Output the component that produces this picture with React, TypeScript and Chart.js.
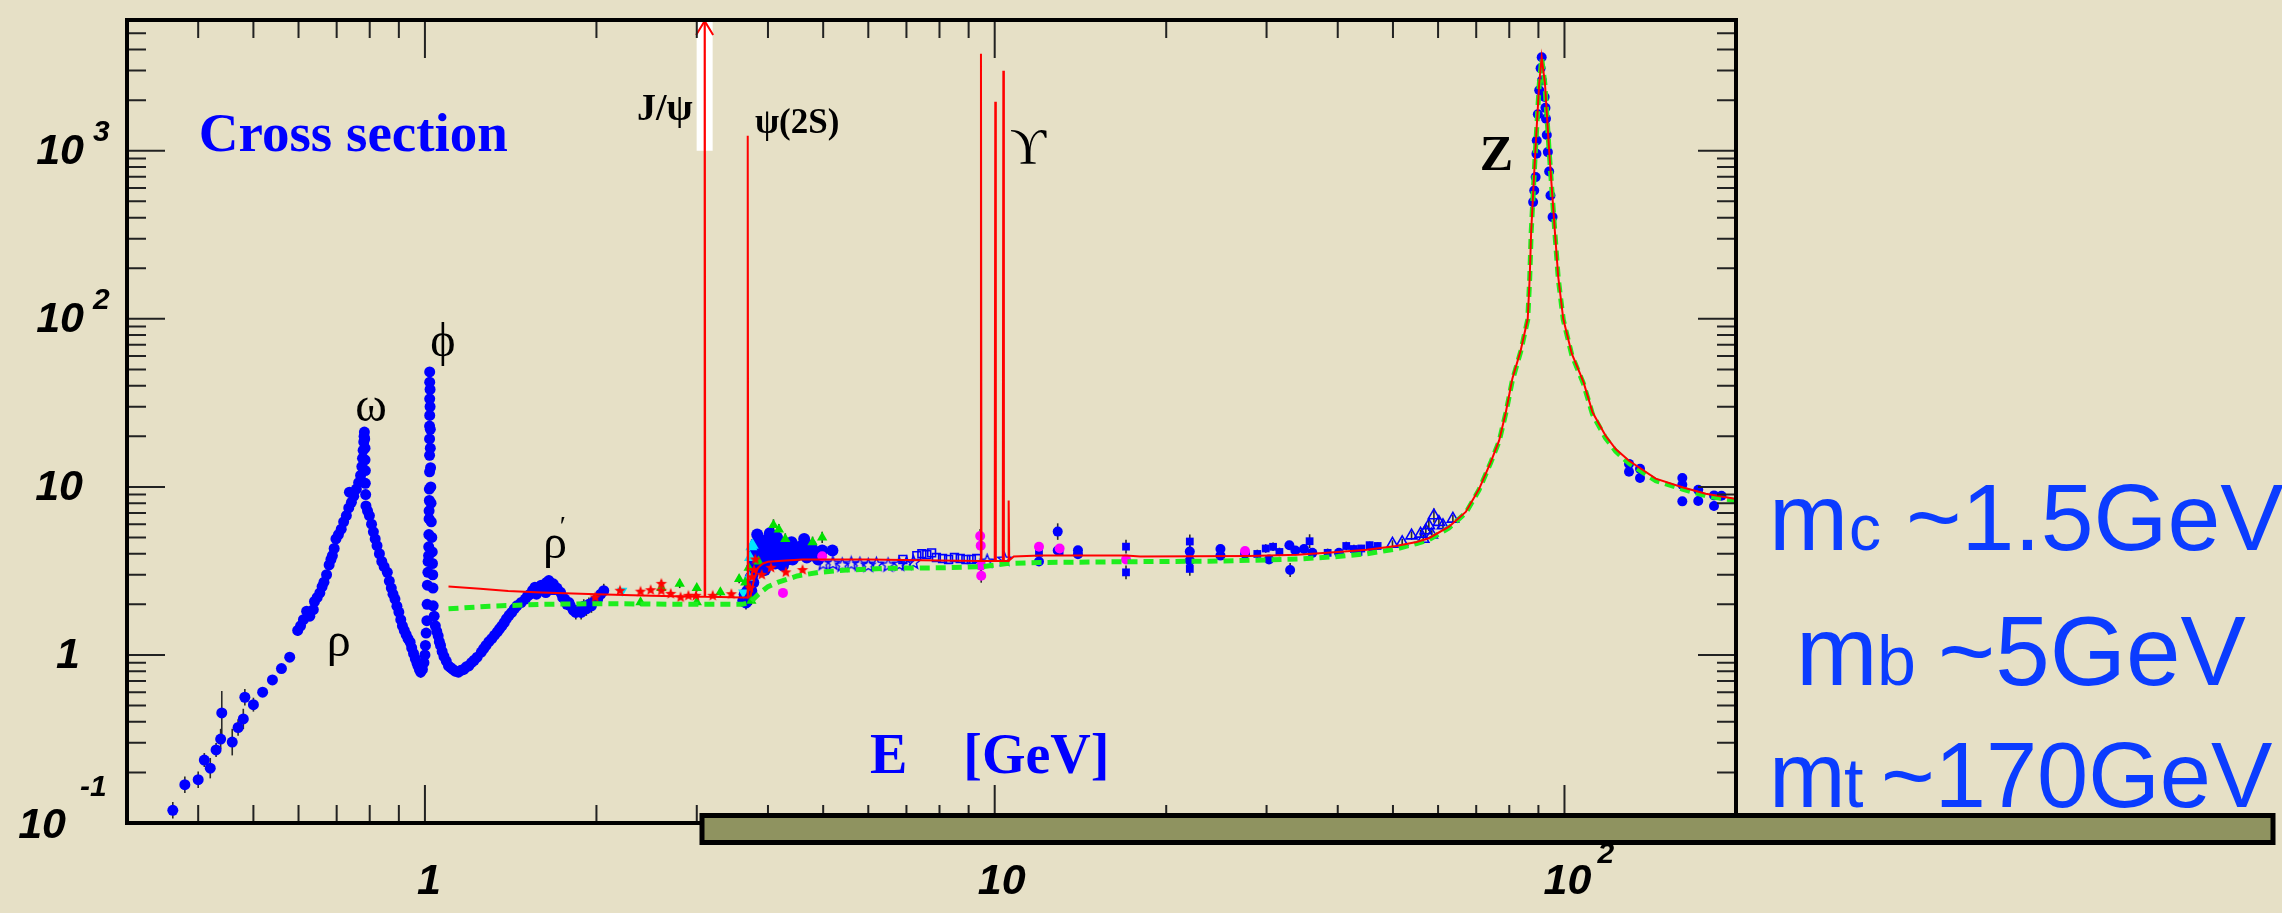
import React, { useEffect, useRef } from 'react';
import { Chart, registerables } from 'chart.js';

Chart.register(...registerables);

const W = 2282;
const H = 913;
const BG = '#e6e0c6';

// Axis ranges (log-log)
const xRange = [0.3, 200];
const yRange = [0.1, 6000];

// Tick labels
const xTickLabelValues = [1, 10, 100];
const xTickLabelBase = ['1', '10', '10'];
const xTickLabelExp = ['', '', '2'];
const yTickLabelValues = [0.1, 1, 10, 100, 1000];
const yTickLabelBase = ['10', '1', '10', '10', '10'];
const yTickLabelExp = ['-1', '', '', '2', '3'];

// Theory curves [E (GeV), R]
const theoryRed: number[][] = [
  [1.1, 2.55], [1.25, 2.48], [1.4, 2.4], [1.6, 2.35], [2.0, 2.3], [2.5, 2.25], [3.0, 2.22],
  [3.09, 2.22], [3.097, 2e5], [3.104, 2.22], [3.3, 2.21], [3.6, 2.2],
  [3.679, 2.2], [3.686, 1230], [3.693, 2.2], [3.73, 2.25], [3.78, 2.8], [3.84, 3.3], [3.92, 3.5],
  [4.0, 3.58], [4.3, 3.65], [4.6, 3.7], [6.0, 3.7], [8.0, 3.65],
  [9.44, 3.62], [9.46, 3780], [9.48, 3.62], [10.0, 3.62], [10.023, 1960], [10.046, 3.62],
  [10.332, 3.62], [10.355, 2990], [10.378, 3.62], [10.555, 3.62], [10.58, 8.3], [10.605, 3.65],
  [10.8, 3.85], [12, 3.9], [17, 3.9], [18, 3.85], [28, 3.88], [34, 3.95], [40, 4.1], [45, 4.22],
  [50.6, 4.45], [55, 4.7], [57.8, 4.95], [62.7, 5.8], [67.1, 7.1], [70.8, 9.7], [74.2, 14],
  [76.8, 18.9], [78.9, 27.8], [81, 44], [83.8, 65], [86.2, 100], [86.9, 178], [87.4, 330],
  [88.9, 1000], [90.3, 2530], [91.2, 3600], [92.4, 2530], [94.0, 1000], [96.2, 330], [97.5, 178],
  [99.5, 100], [103, 62], [108, 42], [112, 27.8], [118, 20.2], [123, 16.8], [129.8, 14.3],
  [144.6, 11.2], [161, 9.96], [177, 9.1], [199, 8.5],
];

const theoryGreen: number[][] = [
  [1.1, 1.88], [1.3, 1.95], [1.6, 2.0], [2.0, 2.02], [3.0, 2.0], [3.6, 2.0], [3.72, 2.05],
  [3.85, 2.3], [4.0, 2.55], [4.16, 2.7], [4.5, 2.95], [4.9, 3.1], [5.5, 3.2], [6.5, 3.28],
  [8, 3.3], [9.5, 3.35], [10.5, 3.5], [12, 3.55], [16, 3.58], [25, 3.62], [34, 3.72], [40, 3.85],
  [45, 4.0], [50.6, 4.27], [55, 4.6], [57.8, 4.85], [62.7, 5.7], [67.1, 7.0], [70.8, 9.6],
  [74.2, 13.9], [76.8, 18.7], [78.9, 27.5], [81, 43], [83.8, 64], [86.2, 99], [86.9, 175],
  [87.4, 325], [88.9, 990], [90.3, 2480], [91.2, 3550], [92.4, 2480], [94.0, 990], [96.2, 325],
  [97.5, 175], [99.5, 99], [103, 61], [108, 41], [112, 27], [118, 19.6], [123, 16.3],
  [129.8, 13.8], [144.6, 10.9], [161, 9.7], [177, 8.85], [199, 8.3],
];

// Low energy data (blue dots) [E, R, relative error]
const lowEnergyBlue: number[][] = [
  [0.361, 0.119, 0.12], [0.379, 0.169, 0.12], [0.40, 0.181, 0.12], [0.41, 0.237, 0.1], [0.42, 0.212, 0.15],
  [0.43, 0.272, 0.1], [0.438, 0.316, 0.15], [0.44, 0.452, 0.35], [0.459, 0.303, 0.2], [0.47, 0.37, 0.12],
  [0.48, 0.416, 0.15], [0.483, 0.56, 0.12], [0.50, 0.506, 0.1], [0.519, 0.60, 0.06], [0.54, 0.71, 0.06],
  [0.56, 0.83, 0.05], [0.579, 0.97, 0.05], [0.598, 1.40, 0.08], [0.605, 1.49, 0.08], [0.612, 1.62, 0.06],
  [0.62, 1.82, 0.06], [0.628, 1.70, 0.05], [0.637, 1.86, 0.05], [0.64, 2.08, 0.05], [0.647, 2.20, 0.05],
  [0.654, 2.34, 0.05], [0.66, 2.55, 0.05], [0.665, 2.71, 0.05], [0.672, 3.0, 0.05], [0.679, 3.43, 0.05],
  [0.684, 3.7, 0.04], [0.688, 3.9, 0.04], [0.693, 4.3, 0.04], [0.698, 4.9, 0.04], [0.705, 5.2, 0.04],
  [0.713, 5.6, 0.04], [0.72, 6.2, 0.04], [0.728, 6.75, 0.04], [0.735, 7.5, 0.04], [0.743, 8.1, 0.04],
  [0.737, 9.3, 0.03], [0.75, 8.8, 0.03], [0.758, 9.7, 0.03], [0.765, 10.6, 0.03], [0.771, 11.7, 0.03],
  [0.775, 13.2, 0.03], [0.777, 14.8, 0.03], [0.779, 16.5, 0.03], [0.781, 18.5, 0.03], [0.782, 20.0, 0.03],
  [0.783, 21.2, 0.03], [0.784, 19.3, 0.03], [0.785, 17.0, 0.03], [0.785, 14.5, 0.03], [0.786, 12.5, 0.03],
  [0.786, 10.5, 0.03], [0.787, 9.0, 0.03], [0.788, 7.7, 0.03], [0.793, 7.2, 0.03], [0.799, 6.75, 0.03],
  [0.806, 6.0, 0.03], [0.812, 5.4, 0.03], [0.818, 4.9, 0.03], [0.824, 4.47, 0.03], [0.832, 4.0, 0.03],
  [0.84, 3.6, 0.03], [0.848, 3.35, 0.03], [0.859, 3.1, 0.03], [0.866, 2.75, 0.03], [0.873, 2.5, 0.03],
  [0.879, 2.3, 0.03], [0.886, 2.15, 0.04], [0.893, 1.95, 0.04], [0.9, 1.8, 0.04], [0.907, 1.62, 0.04],
  [0.913, 1.49, 0.04], [0.92, 1.4, 0.04], [0.927, 1.32, 0.04], [0.934, 1.25, 0.04], [0.942, 1.19, 0.04],
  [0.948, 1.1, 0.04], [0.955, 1.02, 0.04], [0.962, 0.95, 0.05], [0.968, 0.9, 0.05], [0.972, 0.864, 0.06],
  [0.978, 0.82, 0.06], [0.983, 0.79, 0.08], [0.99, 0.82, 0.06], [0.996, 0.9, 0.05], [1.0, 1.0, 0.05],
  [1.002, 1.14, 0.05], [1.005, 1.35, 0.05], [1.008, 1.6, 0.05], [1.009, 2.0, 0.05], [1.01, 2.6, 0.05],
  [1.012, 3.1, 0.05], [1.013, 3.6, 0.04], [1.015, 3.9, 0.04], [1.0155, 4.4, 0.04], [1.016, 5.2, 0.04],
  [1.017, 6.45, 0.04], [1.017, 7.2, 0.04], [1.018, 8.3, 0.04], [1.018, 9.7, 0.04], [1.019, 12.3, 0.04],
  [1.019, 15.4, 0.04], [1.019, 19.3, 0.04], [1.019, 23, 0.04], [1.0195, 26.6, 0.03], [1.0195, 33.4, 0.03],
  [1.0195, 42, 0.03], [1.0195, 48.3, 0.03], [1.021, 38, 0.03], [1.021, 30, 0.03], [1.022, 22, 0.03],
  [1.022, 17, 0.04], [1.023, 13, 0.04], [1.024, 10, 0.04], [1.025, 8, 0.04], [1.026, 6.2, 0.04],
  [1.028, 5, 0.04], [1.03, 4.1, 0.04], [1.031, 3.5, 0.04], [1.032, 3.0, 0.05], [1.033, 2.5, 0.05],
  [1.034, 1.96, 0.05], [1.038, 1.7, 0.05], [1.043, 1.49, 0.05], [1.049, 1.38, 0.05], [1.055, 1.3, 0.05],
  [1.06, 1.2, 0.05], [1.065, 1.14, 0.05], [1.072, 1.05, 0.06], [1.08, 0.98, 0.06], [1.09, 0.92, 0.06],
  [1.10, 0.86, 0.06], [1.11, 0.84, 0.06], [1.12, 0.82, 0.07], [1.13, 0.8, 0.07], [1.145, 0.79, 0.07],
  [1.157, 0.81, 0.07], [1.17, 0.82, 0.07], [1.182, 0.85, 0.07], [1.194, 0.86, 0.07], [1.207, 0.9, 0.07],
  [1.22, 0.93, 0.07], [1.235, 0.97, 0.06], [1.256, 1.04, 0.06], [1.268, 1.09, 0.06], [1.28, 1.14, 0.06],
  [1.295, 1.2, 0.06], [1.31, 1.25, 0.06], [1.325, 1.31, 0.06], [1.34, 1.37, 0.06], [1.352, 1.43, 0.06],
  [1.365, 1.49, 0.06], [1.378, 1.56, 0.06], [1.39, 1.64, 0.06], [1.405, 1.72, 0.06], [1.42, 1.79, 0.06],
  [1.435, 1.88, 0.06], [1.45, 1.96, 0.06], [1.475, 2.05, 0.06], [1.50, 2.15, 0.06], [1.515, 2.25, 0.06],
  [1.53, 2.3, 0.06], [1.545, 2.42, 0.06], [1.56, 2.53, 0.06], [1.57, 2.3, 0.06], [1.58, 2.45, 0.06],
  [1.6, 2.6, 0.06], [1.62, 2.5, 0.06], [1.63, 2.35, 0.06], [1.635, 2.7, 0.06], [1.65, 2.77, 0.07],
  [1.665, 2.55, 0.07], [1.67, 2.45, 0.07], [1.68, 2.65, 0.07], [1.69, 2.45, 0.07], [1.705, 2.5, 0.07],
  [1.73, 2.36, 0.07], [1.745, 2.2, 0.07], [1.76, 2.15, 0.08], [1.775, 2.0, 0.08], [1.79, 2.05, 0.08],
  [1.80, 1.96, 0.08], [1.82, 1.85, 0.08], [1.84, 1.79, 0.1], [1.86, 1.85, 0.1], [1.88, 1.79, 0.1],
  [1.9, 1.95, 0.1], [1.92, 1.88, 0.1], [1.94, 2.0, 0.1], [1.96, 1.96, 0.1], [1.985, 2.1, 0.1],
  [2.01, 2.15, 0.1], [2.035, 2.3, 0.1], [2.06, 2.41, 0.1],
];

// Charm threshold region data (blue dots)
const charmBlue: number[][] = [
  [3.62, 2.1, 0.08], [3.64, 2.3, 0.08], [3.66, 2.05, 0.1], [3.68, 2.4, 0.08], [3.70, 2.2, 0.1],
  [3.72, 2.6, 0.08], [3.73, 2.9, 0.08], [3.75, 3.3, 0.08], [3.76, 3.0, 0.08], [3.77, 3.7, 0.08],
  [3.78, 3.4, 0.08], [3.79, 4.0, 0.08], [3.80, 3.8, 0.08], [3.81, 4.6, 0.08], [3.82, 4.2, 0.08],
  [3.84, 4.5, 0.07], [3.85, 3.9, 0.07], [3.86, 4.9, 0.07], [3.88, 4.3, 0.07], [3.9, 4.2, 0.07],
  [3.92, 3.8, 0.07], [3.94, 4.5, 0.07], [3.96, 4.0, 0.07], [3.98, 3.6, 0.07], [4.0, 4.9, 0.07],
  [4.02, 4.2, 0.07], [4.04, 4.4, 0.07], [4.06, 3.7, 0.07], [4.08, 3.9, 0.07], [4.1, 4.47, 0.07],
  [4.12, 3.5, 0.07], [4.14, 4.1, 0.07], [4.16, 4.0, 0.07], [4.18, 4.3, 0.07], [4.2, 3.8, 0.07],
  [4.22, 4.6, 0.07], [4.25, 3.4, 0.07], [4.27, 4.1, 0.07], [4.3, 4.0, 0.07], [4.33, 3.7, 0.07],
  [4.35, 4.5, 0.07], [4.4, 4.68, 0.07], [4.42, 3.7, 0.07], [4.45, 4.2, 0.07], [4.48, 3.95, 0.07],
  [4.5, 3.9, 0.07], [4.55, 4.4, 0.07], [4.6, 4.1, 0.07], [4.63, 4.9, 0.07], [4.68, 3.8, 0.07],
  [4.72, 4.3, 0.07], [4.76, 4.47, 0.07], [4.8, 3.9, 0.07], [4.85, 4.1, 0.07], [4.9, 3.7, 0.07],
  [4.98, 4.18, 0.07], [5.19, 4.18, 0.06], [3.74, 2.4, 0.08], [3.77, 2.7, 0.08], [3.87, 3.3, 0.08],
  [3.95, 3.2, 0.08], [4.03, 5.3, 0.08], [4.15, 5.0, 0.08], [3.83, 5.2, 0.08],
];

// High energy blue dots (continuum, Z peak, above Z)
const highBlueDots: number[][] = [
  [11.96, 3.6, 0.06], [12.9, 5.42, 0.12], [12.9, 4.18, 0.06], [14.0, 4.2, 0.06], [14.0, 3.97, 0.06],
  [22.0, 4.12, 0.1], [22.0, 3.64, 0.1], [24.9, 4.27, 0.06], [24.9, 3.9, 0.06], [27.5, 4.0, 0.06],
  [30.3, 3.7, 0.06], [32.9, 4.5, 0.06], [33.0, 3.2, 0.1], [33.7, 4.18, 0.06], [34.9, 4.27, 0.06],
  [36.1, 4.05, 0.06], [40.2, 4.05, 0.05],
  [91.2, 3600, 0.02], [91.3, 2620, 0.02], [90.3, 2290, 0.02], [92.3, 2090, 0.02], [92.8, 1550, 0.02],
  [89.4, 1150, 0.03], [93.1, 1240, 0.03], [89.3, 960, 0.03], [93.5, 982, 0.03], [89.0, 697, 0.03],
  [94.0, 753, 0.03], [88.5, 580, 0.03], [94.5, 542, 0.03], [88.1, 495, 0.03], [95.3, 403, 0.03],
  [89.8, 1650, 0.02], [90.8, 3100, 0.02], [92.6, 1800, 0.02],
  [129.8, 13.7, 0.06], [129.8, 12.3, 0.06], [135.7, 12.8, 0.06], [135.7, 11.3, 0.06], [161, 11.3, 0.06],
  [161, 10.3, 0.06], [161, 8.2, 0.06], [171.7, 9.6, 0.06], [171.7, 8.25, 0.06], [183, 8.9, 0.06],
  [183, 7.7, 0.06], [188.6, 8.85, 0.06],
];

const blueSquares: number[][] = [
  [11.96, 4.05, 0.06], [13.0, 4.12, 0.06], [17.0, 4.41, 0.1], [17.0, 3.1, 0.1], [22.0, 4.73, 0.1],
  [22.0, 3.25, 0.1], [28.9, 3.99, 0.06], [29.9, 4.3, 0.06], [30.8, 4.4, 0.06], [31.6, 4.1, 0.06],
  [35.7, 4.75, 0.1], [38.4, 4.05, 0.06], [41.4, 4.45, 0.06], [42.7, 4.27, 0.06], [43.5, 4.1, 0.05],
  [44, 4.3, 0.05], [45.5, 4.5, 0.05], [46, 4.2, 0.05], [47, 4.45, 0.05],
];

const blueOpenTriangles: number[][] = [
  [49.9, 4.58, 0.05], [51.9, 4.68, 0.05], [53.9, 5.13, 0.06], [55.9, 5.25, 0.06], [56.5, 4.9, 0.06],
  [57.1, 5.5, 0.08], [57.8, 5.9, 0.08], [58.5, 5.2, 0.06], [59.0, 6.75, 0.1], [60.2, 6.17, 0.08],
  [61.2, 5.9, 0.06], [63.7, 6.45, 0.06],
];

const blueOpenStars: number[][] = [
  [5.0, 3.48], [5.2, 3.5], [5.4, 3.42], [5.6, 3.48], [5.8, 3.45], [6.0, 3.4], [6.2, 3.45],
  [6.5, 3.42], [6.8, 3.45], [7.0, 3.5], [7.2, 3.55], [9.7, 3.6], [10.4, 3.7],
];

const blueOpenSquares: number[][] = [
  [6.9, 3.7], [7.3, 3.9], [7.45, 4.0], [7.6, 3.95], [7.75, 4.05], [7.9, 3.8], [8.1, 3.75],
  [8.3, 3.7], [8.5, 3.8], [8.7, 3.75], [8.9, 3.7], [9.1, 3.7], [9.3, 3.75],
];

const magentaDots: number[][] = [
  [9.43, 5.1, 0.1], [9.45, 4.47, 0.1], [9.46, 3.4, 0.1], [9.47, 2.96, 0.1], [4.25, 2.34, 0.05],
  [4.98, 3.87, 0.05], [11.96, 4.4, 0.05], [27.5, 4.15, 0.05], [17.0, 3.7, 0.05], [13.0, 4.3, 0.05],
];

const redStars: number[][] = [
  [1.99, 2.2], [2.2, 2.41], [2.39, 2.38], [2.49, 2.43], [2.6, 2.65, 0.05], [2.6, 2.41], [2.7, 2.31],
  [2.81, 2.2], [2.9, 2.25], [2.99, 2.25], [3.2, 2.25], [3.45, 2.3], [3.72, 2.5], [3.75, 2.9],
  [3.78, 3.2], [3.8, 3.7], [3.9, 3.0], [4.05, 3.3], [4.3, 3.1], [4.6, 3.2],
];

const greenTriangles: number[][] = [
  [2.39, 2.06, 0.05], [2.6, 2.5, 0.05], [2.8, 2.65, 0.06], [3.0, 2.5, 0.05], [3.0, 2.06, 0.05],
  [3.3, 2.36, 0.05], [3.56, 2.83, 0.06], [3.65, 2.7, 0.06], [3.7, 3.3, 0.06], [3.74, 2.1, 0.06],
  [3.85, 3.6, 0.06], [4.09, 5.94, 0.08], [4.18, 5.57, 0.08], [4.29, 4.9, 0.08], [4.79, 4.68, 0.08],
  [4.98, 5.0, 0.08],
];

const cyanTriangles: number[][] = [[3.7, 2.9], [3.72, 3.8], [3.74, 4.4], [3.76, 4.5]];
const cyanInvTriangles: number[][] = [[2.22, 2.41], [3.62, 2.35]];

// Resonance masses used for decorations
const JPSI_MASS = 3.097;

function toXY(a: number[][]) {
  return a.map((p) => ({ x: p[0], y: p[1] }));
}

function makeStar(fill: string | null, stroke: string | null, R: number, r: number, lw: number) {
  const size = Math.ceil(2 * R + lw * 2 + 2);
  const c = document.createElement('canvas');
  c.width = size;
  c.height = size;
  const g = c.getContext('2d')!;
  g.translate(size / 2, size / 2);
  g.beginPath();
  for (let i = 0; i < 10; i++) {
    const ang = -Math.PI / 2 + (i * Math.PI) / 5;
    const rad = i % 2 === 0 ? R : r;
    g.lineTo(rad * Math.cos(ang), rad * Math.sin(ang));
  }
  g.closePath();
  if (fill) {
    g.fillStyle = fill;
    g.fill();
  }
  if (stroke) {
    g.strokeStyle = stroke;
    g.lineWidth = lw;
    g.stroke();
  }
  return c;
}

const errorSets = [lowEnergyBlue, charmBlue, highBlueDots, blueSquares, blueOpenTriangles, magentaDots, redStars, greenTriangles];

const decorPlugin = {
  id: 'decor',
  beforeDraw(chart: any) {
    const ctx = chart.ctx;
    ctx.save();
    ctx.fillStyle = BG;
    ctx.fillRect(0, 0, chart.width, chart.height);
    ctx.restore();
  },
  beforeDatasetsDraw(chart: any) {
    const { ctx, chartArea, scales } = chart;
    const xs = scales.x;
    const ys = scales.y;
    ctx.save();
    // white band behind the J/psi arrow
    const jx = xs.getPixelForValue(JPSI_MASS);
    ctx.fillStyle = '#ffffff';
    ctx.fillRect(jx - 8, chartArea.top, 16, ys.getPixelForValue(1000) - chartArea.top);
    // error bars
    ctx.beginPath();
    ctx.rect(chartArea.left, chartArea.top, chartArea.right - chartArea.left, chartArea.bottom - chartArea.top);
    ctx.clip();
    ctx.strokeStyle = '#2a2a2a';
    ctx.lineWidth = 1.6;
    for (const set of errorSets) {
      for (const p of set) {
        if (p.length < 3 || !p[2]) continue;
        const px = xs.getPixelForValue(p[0]);
        const y1 = ys.getPixelForValue(p[1] / (1 + p[2]));
        const y2 = ys.getPixelForValue(p[1] * (1 + p[2]));
        ctx.beginPath();
        ctx.moveTo(px, y1);
        ctx.lineTo(px, y2);
        ctx.stroke();
      }
    }
    ctx.restore();
  },
  afterDatasetsDraw(chart: any) {
    const { ctx, chartArea, scales } = chart;
    const xs = scales.x;
    const ys = scales.y;
    const L = chartArea.left, R = chartArea.right, T = chartArea.top, B = chartArea.bottom;
    ctx.save();

    // Arrow head on J/psi
    const jx = xs.getPixelForValue(JPSI_MASS);
    ctx.strokeStyle = '#ff0000';
    ctx.lineWidth = 2;
    ctx.beginPath();
    ctx.moveTo(jx - 8.5, T + 15);
    ctx.lineTo(jx, T + 1);
    ctx.lineTo(jx + 8.5, T + 15);
    ctx.stroke();

    // ticks
    ctx.strokeStyle = '#222';
    ctx.lineWidth = 2;
    for (let d = -1; d <= 3; d++) {
      for (let m = 1; m <= 9; m++) {
        const v = m * Math.pow(10, d);
        const major = m === 1;
        if (v > yRange[0] * 1.001 && v < yRange[1]) {
          const py = ys.getPixelForValue(v);
          const len = major ? 38 : 19;
          ctx.beginPath();
          ctx.moveTo(L, py); ctx.lineTo(L + len, py);
          ctx.moveTo(R, py); ctx.lineTo(R - len, py);
          ctx.stroke();
        }
        if (v > xRange[0] * 1.001 && v < xRange[1] * 0.999) {
          const px = xs.getPixelForValue(v);
          const len = major ? 38 : 18;
          ctx.beginPath();
          ctx.moveTo(px, B); ctx.lineTo(px, B - len);
          ctx.moveTo(px, T); ctx.lineTo(px, T + len);
          ctx.stroke();
        }
      }
    }

    // frame
    ctx.strokeStyle = '#000';
    ctx.lineWidth = 4;
    ctx.strokeRect(L, T, R - L, B - T);

    // tick labels
    ctx.fillStyle = '#000';
    ctx.textBaseline = 'middle';
    const big = "italic bold 43px 'Liberation Sans', Arial, sans-serif";
    const small = "italic bold 30px 'Liberation Sans', Arial, sans-serif";
    yTickLabelValues.forEach((v, i) => {
      const py = ys.getPixelForValue(v);
      const base = yTickLabelBase[i];
      const exp = yTickLabelExp[i];
      ctx.font = big;
      ctx.textAlign = 'right';
      if (v === yRange[0]) {
        ctx.fillText(base, 66, py + 3);
        ctx.font = small;
        ctx.textAlign = 'left';
        ctx.fillText(exp, 80, py - 35);
      } else if (exp) {
        ctx.fillText(base, 84, py + 1);
        ctx.font = small;
        ctx.textAlign = 'left';
        ctx.fillText(exp, 93, py - 18);
      } else {
        ctx.fillText(base, base.length === 1 ? 80 : 83, py + 1);
      }
    });
    xTickLabelValues.forEach((v, i) => {
      const px = xs.getPixelForValue(v);
      const base = xTickLabelBase[i];
      const exp = xTickLabelExp[i];
      ctx.font = big;
      ctx.textAlign = 'center';
      const cx = px + (exp ? 3 : base.length === 1 ? 4 : 7);
      ctx.fillText(base, cx, 882);
      if (exp) {
        const w = ctx.measureText(base).width;
        ctx.font = small;
        ctx.textAlign = 'left';
        ctx.fillText(exp, cx + w / 2 + 6, 855);
      }
    });

    // annotations
    const serif = "'Liberation Serif', 'Times New Roman', 'DejaVu Serif', serif";
    const put = (txt: string, E: number, Rv: number, font: string, color: string, align: CanvasTextAlign) => {
      ctx.font = font;
      ctx.fillStyle = color;
      ctx.textAlign = align;
      ctx.textBaseline = 'alphabetic';
      ctx.fillText(txt, xs.getPixelForValue(E), ys.getPixelForValue(Rv));
    };
    put('Cross section', 0.401, 1000, `bold 55px ${serif}`, '#0000ff', 'left');
    put('J/\u03c8', 2.95, 1520, `bold 38px ${serif}`, '#000', 'right');
    put('\u03c8(2S)', 3.795, 1276, `bold 35px ${serif}`, '#000', 'left');
    put('\u03d2', 11.44, 845, `50px ${serif}`, '#000', 'center');
    put('Z', 71.0, 772, `bold 50px ${serif}`, '#000', 'left');
    put('\u03c9', 0.804, 24.7, `48px ${serif}`, '#000', 'center');
    put('\u03d5', 1.075, 60.1, `48px ${serif}`, '#000', 'center');
    put('\u03c1', 0.706, 0.985, `48px ${serif}`, '#000', 'center');
    put('\u03c1', 1.691, 3.77, `48px ${serif}`, '#000', 'center');
    put('\u2032', 1.745, 5.2, `28px ${serif}`, '#000', 'center');
    put('E    [GeV]', 6.04, 0.198, `bold 56px ${serif}`, '#0000ff', 'left');

    // olive bar
    ctx.fillStyle = '#8f9360';
    ctx.fillRect(702, 815.5, 1571, 27);
    ctx.strokeStyle = '#000';
    ctx.lineWidth = 5;
    ctx.strokeRect(702, 815.5, 1571, 27);

    // right side quark-mass notes
    const sans = "'Liberation Sans', Arial, Helvetica, sans-serif";
    const blue = '#0b3cff';
    ctx.fillStyle = blue;
    ctx.textAlign = 'left';
    ctx.textBaseline = 'alphabetic';
    const note = (x0: number, base: number, size: number, subSize: number, sub: string, subX: number, restX: number, rest: string) => {
      ctx.font = `${size}px ${sans}`;
      ctx.fillText('m', x0, base);
      ctx.font = `${subSize}px ${sans}`;
      ctx.fillText(sub, subX, base);
      ctx.font = `${size}px ${sans}`;
      ctx.fillText(rest, restX, base);
    };
    note(1769, 550, 95, 64, 'c', 1849, 1906, '~1.5GeV');
    note(1796, 685, 98, 70, 'b', 1877, 1938, '~5GeV');
    note(1769, 807, 92, 70, 't', 1844, 1881, '~170GeV');

    ctx.restore();
  },
};

export default function App() {
  const ref = useRef<HTMLCanvasElement | null>(null);
  useEffect(() => {
    if (!ref.current) return;
    const redStar = makeStar('#ff0000', null, 6, 2.6, 1);
    const openStar = makeStar(null, '#0000ff', 7, 3, 1.4);
    const scatter = (data: number[][], extra: any) => ({
      data: toXY(data),
      showLine: false,
      ...extra,
    });
    const chart = new Chart(ref.current, {
      type: 'scatter',
      data: {
        datasets: [
          {
            data: toXY(theoryRed),
            showLine: true,
            borderColor: '#ff0000',
            borderWidth: 2,
            pointRadius: 0,
            tension: 0,
          },
          {
            data: toXY(theoryGreen),
            showLine: true,
            borderColor: '#1eee1e',
            borderWidth: 5,
            borderDash: [10, 6],
            pointRadius: 0,
            tension: 0,
          },
          scatter(magentaDots, { pointStyle: 'circle', pointRadius: 5, backgroundColor: '#ff00ff', borderWidth: 0 }),
          scatter(redStars, { pointStyle: redStar, pointRadius: 6 }),
          scatter(greenTriangles, { pointStyle: 'triangle', pointRadius: 6, backgroundColor: '#00e000', borderWidth: 0 }),
          scatter(cyanTriangles, { pointStyle: 'triangle', pointRadius: 7, backgroundColor: '#00e5ff', borderWidth: 0 }),
          scatter(cyanInvTriangles, { pointStyle: 'triangle', pointRotation: 180, pointRadius: 6, backgroundColor: '#00e5ff', borderWidth: 0 }),
          scatter(blueOpenStars, { pointStyle: openStar, pointRadius: 7 }),
          scatter(blueOpenSquares, { pointStyle: 'rect', pointRadius: 5.5, backgroundColor: 'rgba(0,0,0,0)', borderColor: '#0000ff', borderWidth: 1.6 }),
          scatter(blueOpenTriangles, { pointStyle: 'triangle', pointRadius: 6.5, backgroundColor: 'rgba(0,0,0,0)', borderColor: '#0000ff', borderWidth: 1.6 }),
          scatter(blueSquares, { pointStyle: 'rect', pointRadius: 5.5, backgroundColor: '#0000ff', borderWidth: 0 }),
          scatter(highBlueDots, { pointStyle: 'circle', pointRadius: 5, backgroundColor: '#0000ff', borderWidth: 0 }),
          scatter(charmBlue, { pointStyle: 'circle', pointRadius: 6, backgroundColor: '#0000ff', borderWidth: 0 }),
          scatter(lowEnergyBlue, { pointStyle: 'circle', pointRadius: 5.5, backgroundColor: '#0000ff', borderWidth: 0 }),
        ],
      },
      options: {
        animation: false,
        responsive: false,
        devicePixelRatio: 1,
        events: [],
        layout: { padding: { left: 127, top: 20, right: W - 1736, bottom: H - 823 } },
        scales: {
          x: { type: 'logarithmic', min: xRange[0], max: xRange[1], display: false },
          y: { type: 'logarithmic', min: yRange[0], max: yRange[1], display: false },
        },
        plugins: {
          legend: { display: false },
          tooltip: { enabled: false },
        },
      } as any,
      plugins: [decorPlugin as any],
    });
    return () => chart.destroy();
  }, []);

  return (
    <div style={{ position: 'fixed', left: 0, top: 0, width: W, height: H, background: BG, overflow: 'hidden' }}>
      <canvas ref={ref} width={W} height={H} style={{ display: 'block', width: W, height: H }} />
    </div>
  );
}
